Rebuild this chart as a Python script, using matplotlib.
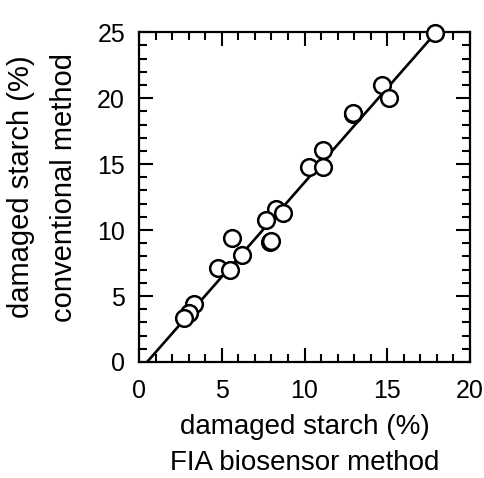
import matplotlib
matplotlib.use('Agg')
import matplotlib.pyplot as plt
from matplotlib.ticker import MultipleLocator

# FIA biosensor method vs conventional method, damaged starch (%)
fia_x = [17.9, 14.7, 15.1, 12.9, 12.95, 11.1, 10.3, 11.1, 8.3, 8.7,
         7.7, 7.9, 7.95, 5.6, 6.2, 4.75, 5.5, 3.3, 3.0, 2.7]
conv_y = [24.9, 21.0, 20.0, 18.8, 18.9, 16.1, 14.8, 14.8, 11.6, 11.3,
          10.8, 9.1, 9.2, 9.4, 8.1, 7.1, 7.0, 4.4, 3.7, 3.3]

# regression line
fit_slope = 1.431
fit_intercept = -0.7
fit_range = [0.49, 17.9]

plt.rcParams['font.family'] = ['Liberation Sans', 'DejaVu Sans']

fig = plt.figure(figsize=(4.85, 4.78), dpi=100)
ax = fig.add_axes([0.2866, 0.2427, 0.6825, 0.690])

line_y = [fit_slope * x + fit_intercept for x in fit_range]
ax.plot(fit_range, line_y, color='black', linewidth=1.9, zorder=2)
ax.plot(fia_x, conv_y, 'o', markersize=12, markerfacecolor='white',
        markeredgecolor='black', markeredgewidth=1.8, zorder=3, clip_on=False)

ax.set_xlim(0, 20)
ax.set_ylim(0, 25)
ax.xaxis.set_major_locator(MultipleLocator(5))
ax.xaxis.set_minor_locator(MultipleLocator(1))
ax.yaxis.set_major_locator(MultipleLocator(5))
ax.yaxis.set_minor_locator(MultipleLocator(1))
ax.tick_params(which='both', direction='in', top=True, right=True,
               width=1.5, labelsize=18)
ax.tick_params(axis='x', pad=12)
ax.tick_params(axis='y', pad=10)
ax.tick_params(which='major', length=10)
ax.tick_params(which='minor', length=6)
for s in ax.spines.values():
    s.set_linewidth(1.6)

ax.set_xlabel('damaged starch (%)\nFIA biosensor method', fontsize=20,
              linespacing=1.5)
ax.set_ylabel('damaged starch (%)\nconventional method', fontsize=21,
              linespacing=1.7)
ax.xaxis.set_label_coords(0.5, -0.157)
ax.yaxis.set_label_coords(-0.184, 0.53)

fig.savefig('out.png', dpi=100)
